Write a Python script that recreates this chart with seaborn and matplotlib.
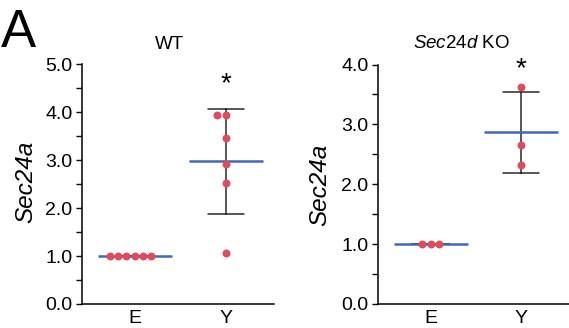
import matplotlib
matplotlib.use("Agg")
import matplotlib.pyplot as plt
import seaborn as sns
import pandas as pd
from matplotlib.ticker import MultipleLocator, FormatStrFormatter

# ---- data ----
groups = ["E", "Y"]
wt_E = [1.0, 1.0, 1.0, 1.0, 1.0, 1.0]
wt_Y = [3.95, 3.95, 3.47, 2.93, 2.52, 1.06]
ko_E = [1.0, 1.0, 1.0]
ko_Y = [3.63, 2.65, 2.32]
panel_titles = ["WT", r"$\it{Sec24d}$ KO"]
ylabel = "Sec24a"
ymaxes = [5.0, 4.0]
star = "*"
star_y = [4.58, 3.92]

sns.set_style("ticks")
plt.rcParams["font.family"] = ["Liberation Sans", "DejaVu Sans"]
plt.rcParams["mathtext.fontset"] = "custom"
plt.rcParams["mathtext.it"] = "Liberation Sans:italic"
plt.rcParams["mathtext.rm"] = "Liberation Sans"
for k in ["text.color", "axes.labelcolor", "xtick.color", "ytick.color", "axes.edgecolor"]:
    plt.rcParams[k] = "black"

RED = "#df4a5d"
BLUE = "#4268b8"
DARK = "#2a2a2a"

def frame(e, y):
    return pd.DataFrame({"group": ["E"] * len(e) + ["Y"] * len(y),
                         "value": list(e) + list(y)})

dfs = [frame(wt_E, wt_Y), frame(ko_E, ko_Y)]

W, H = 569, 328
fig = plt.figure(figsize=(W / 100, H / 100), dpi=100)
axes_px = [(82, 274), (378, 569)]
bottom_px, top_px = 304, 64.5
axs = []
for (x0, x1) in axes_px:
    ax = fig.add_axes([x0 / W, 1 - bottom_px / H, (x1 - x0) / W, (bottom_px - top_px) / H])
    axs.append(ax)

for i, (ax, df) in enumerate(zip(axs, dfs)):
    sns.pointplot(data=df, x="group", y="value", order=groups, errorbar="sd",
                  capsize=0.4, markers="", linestyle="none", color=DARK,
                  err_kws={"linewidth": 1.1}, ax=ax, zorder=1)
    sns.pointplot(data=df, x="group", y="value", order=groups, errorbar=None,
                  markers="_", markersize=53, markeredgewidth=1.8,
                  linestyle="none", color=BLUE, ax=ax, zorder=2)
    sns.swarmplot(data=df, x="group", y="value", order=groups, color=RED,
                  size=5.7, linewidth=0, ax=ax, zorder=3)
    ax.set_xlim(-0.58, 1.53)
    ax.set_ylim(0, ymaxes[i])
    ax.yaxis.set_major_locator(MultipleLocator(1.0))
    ax.yaxis.set_minor_locator(MultipleLocator(0.5))
    ax.yaxis.set_major_formatter(FormatStrFormatter("%.1f"))
    ax.tick_params(axis="y", which="both", length=4, width=1.0, color="black",
                   labelsize=14, pad=3, direction="out", labelcolor="black")
    ax.tick_params(axis="x", length=0, labelsize=14, pad=4.5, labelcolor="black")
    ax.set_xlabel("")
    ax.set_ylabel("")
    for s in ["left", "bottom"]:
        ax.spines[s].set_linewidth(1.1)
        ax.spines[s].set_color("black")
    sns.despine(ax=ax)
    ax.text(1, star_y[i], star, ha="center", va="center", fontsize=20,
            transform=ax.transData)

# panel titles
fig.text(169 / W, 1 - 49 / H, panel_titles[0], ha="center", va="baseline", fontsize=13.5)
fig.text(461 / W, 1 - 48 / H, panel_titles[1], ha="center", va="baseline", fontsize=13.5)
# y labels
fig.text(25.5 / W, 1 - 182 / H, ylabel, rotation=90, ha="center", va="center",
         fontsize=17.5, style="italic")
fig.text(320 / W, 1 - 185 / H, ylabel, rotation=90, ha="center", va="center",
         fontsize=17.5, style="italic")
# panel letter
fig.text(0.002, 1 - 47 / H, "A", ha="left", va="baseline", fontsize=38)

fig.savefig("out.png", dpi=100)
